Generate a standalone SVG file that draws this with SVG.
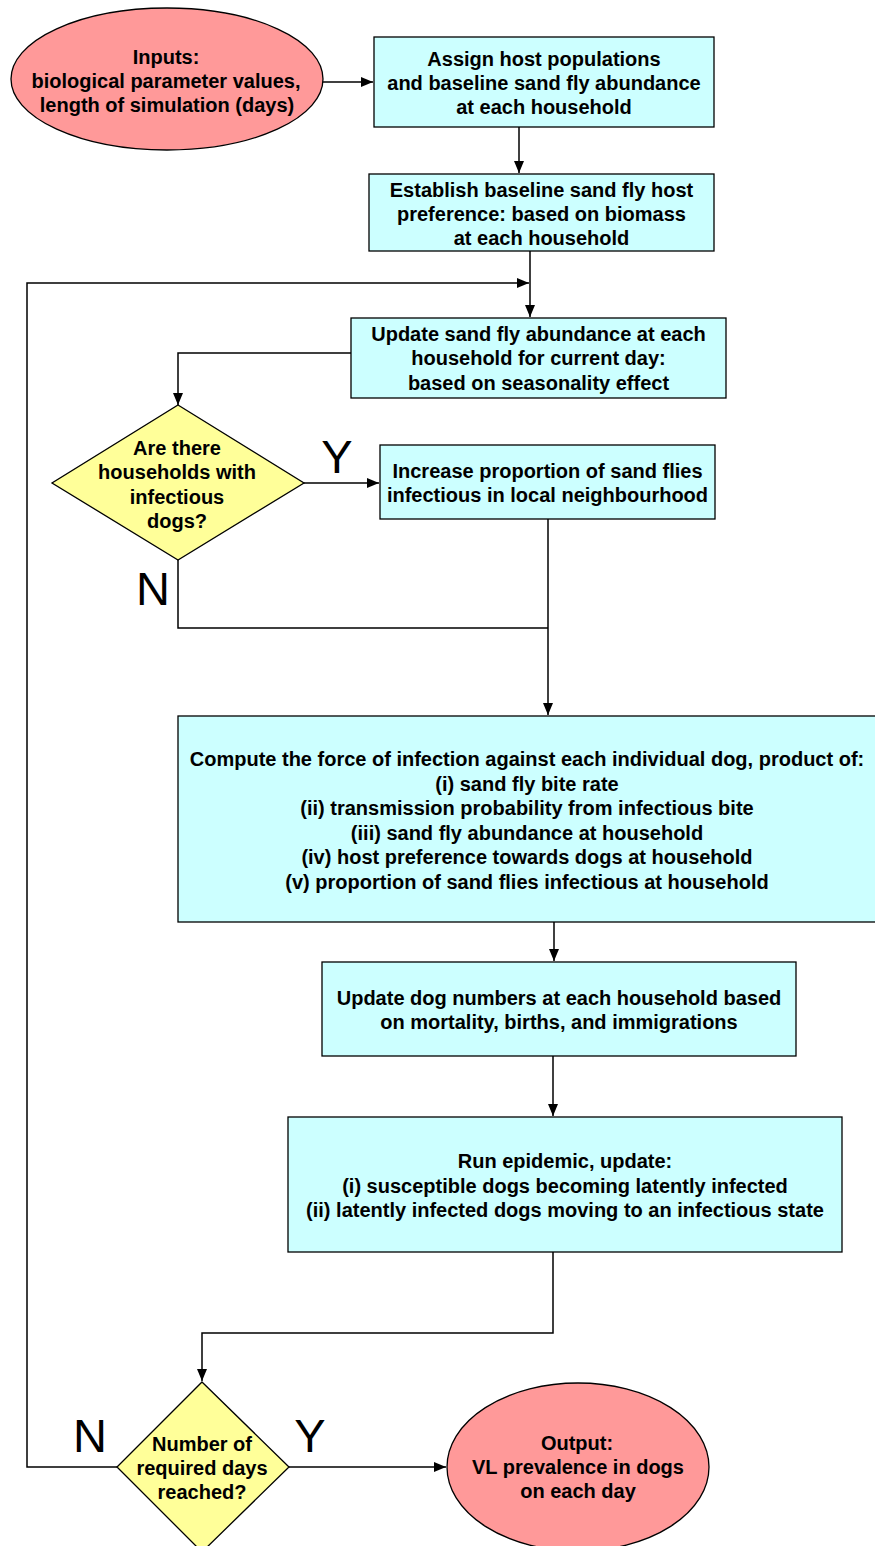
<svg xmlns="http://www.w3.org/2000/svg" width="875" height="1546" viewBox="0 0 875 1546">
<style>
  .box { fill: #CCFFFF; stroke: #000; stroke-width: 1.3; }
  .term { fill: #FF9999; stroke: #000; stroke-width: 1.3; }
  .dec { fill: #FFFF99; stroke: #000; stroke-width: 1.3; }
  .t { font-family: "Liberation Sans", Arial, sans-serif; font-weight: bold; font-size: 20px; fill: #000; text-anchor: middle; }
  .yn { font-family: "Liberation Sans", Arial, sans-serif; font-size: 47px; fill: #000; text-anchor: middle; }
  .c { fill: none; stroke: #000; stroke-width: 1.5; }
</style>
<defs>
  <marker id="ah" markerUnits="userSpaceOnUse" markerWidth="12" markerHeight="10" refX="12" refY="5" orient="auto">
    <path d="M0,0 L12,5 L0,10 z" fill="#000"/>
  </marker>
</defs>
<rect width="875" height="1546" fill="#fff"/>

<g id="connectors">
  <line class="c" x1="323" y1="82" x2="373" y2="82" marker-end="url(#ah)"/>
  <line class="c" x1="519" y1="127" x2="519" y2="173" marker-end="url(#ah)"/>
  <line class="c" x1="530" y1="251" x2="530" y2="317" marker-end="url(#ah)"/>
  <polyline class="c" points="117,1467 27,1467 27,283 529,283" marker-end="url(#ah)"/>
  <polyline class="c" points="351,353 178,353 178,405" marker-end="url(#ah)"/>
  <line class="c" x1="304" y1="483" x2="379" y2="483" marker-end="url(#ah)"/>
  <line class="c" x1="548" y1="519" x2="548" y2="715" marker-end="url(#ah)"/>
  <polyline class="c" points="178,560 178,628 548,628"/>
  <line class="c" x1="554" y1="922" x2="554" y2="961" marker-end="url(#ah)"/>
  <line class="c" x1="553" y1="1056" x2="553" y2="1116" marker-end="url(#ah)"/>
  <polyline class="c" points="553,1252 553,1333 202,1333 202,1381" marker-end="url(#ah)"/>
  <line class="c" x1="289" y1="1467" x2="446" y2="1467" marker-end="url(#ah)"/>
  <text class="yn" x="337" y="473">Y</text>
  <text class="yn" x="153" y="605">N</text>
  <text class="yn" x="90" y="1452">N</text>
  <text class="yn" x="310" y="1452">Y</text>
</g>

<g id="inputs">
  <ellipse class="term" cx="167" cy="79" rx="156" ry="71"/>
  <text class="t" x="166" y="64">Inputs:</text>
  <text class="t" x="166" y="88">biological parameter values,</text>
  <text class="t" x="167" y="112">length of simulation (days)</text>
</g>

<g id="assign">
  <rect class="box" x="374" y="37" width="340" height="90"/>
  <text class="t" x="544" y="66">Assign host populations</text>
  <text class="t" x="544" y="90">and baseline sand fly abundance</text>
  <text class="t" x="544" y="114">at each household</text>
</g>

<g id="establish">
  <rect class="box" x="369" y="174" width="345" height="77"/>
  <text class="t" x="541.5" y="197">Establish baseline sand fly host</text>
  <text class="t" x="541.5" y="221">preference: based on biomass</text>
  <text class="t" x="541.5" y="245">at each household</text>
</g>

<g id="update-sandfly">
  <rect class="box" x="351" y="318" width="375" height="80"/>
  <text class="t" x="538.5" y="341">Update sand fly abundance at each</text>
  <text class="t" x="538.5" y="365">household for current day:</text>
  <text class="t" x="538.5" y="390">based on seasonality effect</text>
</g>

<g id="decision-infectious">
  <polygon class="dec" points="178,405 304,483 178,560 52,483"/>
  <text class="t" x="177" y="455">Are there</text>
  <text class="t" x="177" y="479">households with</text>
  <text class="t" x="177" y="504">infectious</text>
  <text class="t" x="177" y="528">dogs?</text>
</g>

<g id="increase">
  <rect class="box" x="380" y="445" width="335" height="74"/>
  <text class="t" x="547.5" y="478">Increase proportion of sand flies</text>
  <text class="t" x="547.5" y="502">infectious in local neighbourhood</text>
</g>

<g id="force">
  <rect class="box" x="178" y="716" width="700" height="206"/>
  <text class="t" x="527" y="766">Compute the force of infection against each individual dog, product of:</text>
  <text class="t" x="527" y="791">(i) sand fly bite rate</text>
  <text class="t" x="527" y="815">(ii) transmission probability from infectious bite</text>
  <text class="t" x="527" y="840">(iii) sand fly abundance at household</text>
  <text class="t" x="527" y="864">(iv) host preference towards dogs at household</text>
  <text class="t" x="527" y="889">(v) proportion of sand flies infectious at household</text>
</g>

<g id="dog-numbers">
  <rect class="box" x="322" y="962" width="474" height="94"/>
  <text class="t" x="559" y="1005">Update dog numbers at each household based</text>
  <text class="t" x="559" y="1029">on mortality, births, and immigrations</text>
</g>

<g id="epidemic">
  <rect class="box" x="288" y="1117" width="554" height="135"/>
  <text class="t" x="565" y="1168">Run epidemic, update:</text>
  <text class="t" x="565" y="1193">(i) susceptible dogs becoming latently infected</text>
  <text class="t" x="565" y="1217">(ii) latently infected dogs moving to an infectious state</text>
</g>

<g id="decision-days">
  <polygon class="dec" points="202,1382 289,1467 202,1552 117,1467"/>
  <text class="t" x="202" y="1451">Number of</text>
  <text class="t" x="202" y="1475">required days</text>
  <text class="t" x="202" y="1499">reached?</text>
</g>

<g id="output">
  <ellipse class="term" cx="578" cy="1467" rx="131" ry="84"/>
  <text class="t" x="577" y="1450">Output:</text>
  <text class="t" x="578" y="1474">VL prevalence in dogs</text>
  <text class="t" x="578" y="1498">on each day</text>
</g>
</svg>
